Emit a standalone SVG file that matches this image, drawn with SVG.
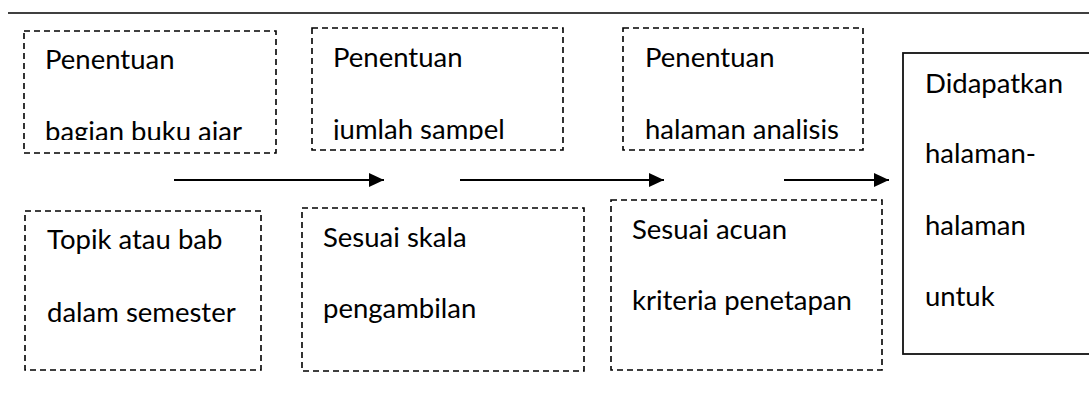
<svg xmlns="http://www.w3.org/2000/svg" width="1089" height="405" viewBox="0 0 1089 405">
  <defs>
    <style>
      .t { font-family: "Lato", "Liberation Sans", sans-serif; font-size: 27.5px; fill: #000; }
      .dash { fill: none; stroke: #000; stroke-width: 1.6; stroke-dasharray: 6 4; }
      .solid { fill: none; stroke: #111; stroke-width: 1.8; }
      .conn { stroke: #000; stroke-width: 2; fill: none; marker-end: url(#arr); }
    </style>
    <marker id="arr" markerUnits="userSpaceOnUse" markerWidth="16" markerHeight="16" refX="15" refY="7" orient="auto">
      <path d="M0,0 L15,7 L0,14 Z" fill="#000"/>
    </marker>
    <clipPath id="clipTop">
      <rect x="0" y="0" width="1089" height="140"/>
    </clipPath>
  </defs>
  <rect width="1089" height="405" fill="#fff"/>
  <line x1="8" y1="13" x2="1089" y2="13" stroke="#000" stroke-width="1.6"/>

  <g id="node-bagian">
    <rect class="dash" x="24" y="31" width="252" height="122"/>
    <g clip-path="url(#clipTop)">
      <text class="t" x="45" y="69">Penentuan</text>
      <text class="t" x="45" y="141">bagian buku ajar</text>
    </g>
  </g>
  <g id="node-jumlah">
    <rect class="dash" x="312" y="28" width="251" height="122"/>
    <g clip-path="url(#clipTop)">
      <text class="t" x="333" y="67">Penentuan</text>
      <text class="t" x="333" y="139">jumlah sampel</text>
    </g>
  </g>
  <g id="node-halaman">
    <rect class="dash" x="623" y="28" width="240" height="122"/>
    <g clip-path="url(#clipTop)">
      <text class="t" x="645" y="67">Penentuan</text>
      <text class="t" x="645" y="139">halaman analisis</text>
    </g>
  </g>
  <g id="node-topik">
    <rect class="dash" x="25" y="211" width="236" height="159"/>
    <text class="t" x="47" y="249">Topik atau bab</text>
    <text class="t" x="47" y="322">dalam semester</text>
  </g>
  <g id="node-skala">
    <rect class="dash" x="302" y="208" width="282" height="163"/>
    <text class="t" x="323" y="247">Sesuai skala</text>
    <text class="t" x="323" y="318">pengambilan</text>
  </g>
  <g id="node-acuan">
    <rect class="dash" x="611" y="200" width="271" height="170"/>
    <text class="t" x="632" y="239">Sesuai acuan</text>
    <text class="t" x="632" y="310">kriteria penetapan</text>
  </g>
  <g id="node-hasil">
    <rect class="solid" x="903" y="53" width="200" height="301"/>
    <text class="t" x="925" y="93">Didapatkan</text>
    <text class="t" x="925" y="163">halaman-</text>
    <text class="t" x="925" y="235">halaman</text>
    <text class="t" x="925" y="306">untuk</text>
  </g>

  <g id="connectors">
    <line class="conn" x1="174" y1="180" x2="384" y2="180"/>
    <line class="conn" x1="460" y1="180" x2="664" y2="180"/>
    <line class="conn" x1="784" y1="180" x2="889" y2="180"/>
  </g>
</svg>
